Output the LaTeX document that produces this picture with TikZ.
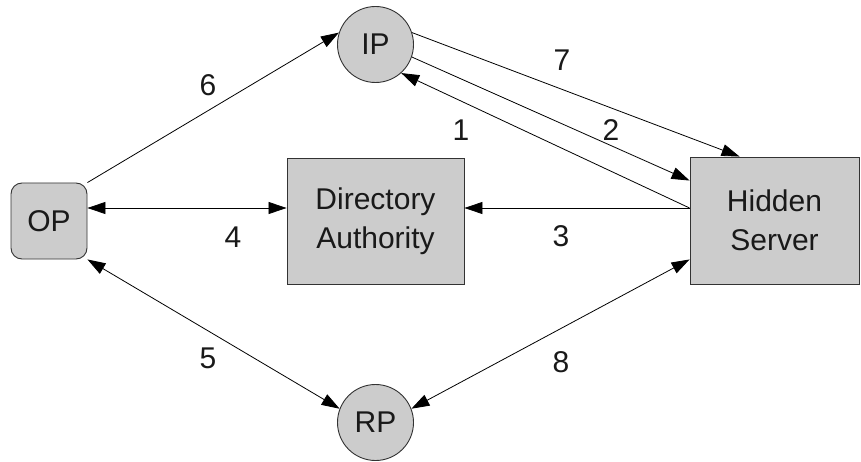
\documentclass[tikz,border=0pt]{standalone}
\usepackage{fontspec}
\setmainfont{Liberation Sans}
\usetikzlibrary{arrows.meta,calc}
\definecolor{boxgray}{RGB}{204,204,204}
\begin{document}
\begin{tikzpicture}[x=1pt,y=-1pt,
  shapebase/.style={draw=black!80, fill=boxgray, line width=0.9pt, align=center,
    font=\fontsize{30}{39}\selectfont, inner sep=0pt, text=black!90},
  rbox/.style={shapebase, rectangle},
  roundbox/.style={shapebase, rectangle, rounded corners=11pt},
  circ/.style={shapebase, circle},
  lbl/.style={font=\fontsize{30}{34}\selectfont, text=black!90, inner sep=0pt},
  conn/.style={line width=0.8pt, black, -{Triangle[length=18pt,width=12pt]}},
  conn2/.style={line width=0.8pt, black, {Triangle[length=18pt,width=12pt]}-{Triangle[length=18pt,width=12pt]}}
]
\useasboundingbox (0,0) rectangle (861,462);
\fill[white] (0,0) rectangle (861,462);

\node[roundbox, minimum width=76pt, minimum height=76pt] (op) at (49,221) {OP};
\node[circ, minimum size=76pt] (ip) at (375.5,44.5) {IP};
\node[circ, minimum size=76pt] (rp) at (375.5,422.5) {RP};
\node[rbox, minimum width=177pt, minimum height=126pt] (da) at (375.5,221) {Directory\\Authority};
\node[rbox, minimum width=169pt, minimum height=127pt] (hs) at (774.5,220.5) {Hidden\\Server};

\coordinate (mid) at (0,208);

% 6
\draw[conn] (op.north east) -- (ip.162);
% 4
\draw[conn2] (op.east |- mid) -- (da.west |- mid);
% 5
\draw[conn2] (op.south east) -- (rp.159);
% 7
\draw[conn] (ip.18) -- ($(hs.north west)+(50,0)$);
% 2
\draw[conn] (ip.341) -- ($(hs.north west)+(0,24)$);
% 1
\draw[conn] (hs.west |- mid) -- (ip.312);
% 3
\draw[conn] (hs.west |- mid) -- (da.east |- mid);
% 8
\draw[conn2] ($(hs.south west)+(0,-25)$) -- (rp.21);

\node[lbl] (n6) at (208,85) {6};
\node[lbl] (n7) at (562,60) {7};
\node[lbl] (n1) at (461,130) {1};
\node[lbl] (n2) at (611,130) {2};
\node[lbl] (n4) at (233,237) {4};
\node[lbl] (n3) at (561,236) {3};
\node[lbl] (n5) at (208,358) {5};
\node[lbl] (n8) at (561,362) {8};
\end{tikzpicture}
\end{document}
